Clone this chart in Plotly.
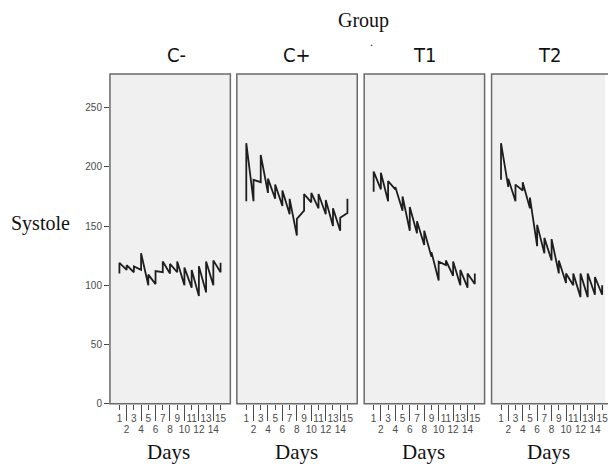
import plotly.graph_objects as go

# ---------------- data ----------------
days = list(range(1, 16))
groups = ["C-", "C+", "T1", "T2"]

# each day shows a vertical run of readings: first value, then last value
cneg_first = [110, 113, 111, 113, 100, 101, 111, 110, 111, 100, 98, 91, 94, 100, 111]
cneg_last = [119, 117, 116, 127, 109, 112, 120, 118, 120, 115, 113, 116, 120, 121, 119]

cpos_first = [171, 171, 187, 178, 173, 167, 160, 142, 163, 170, 165, 160, 150, 146, 161]
cpos_last = [220, 189, 210, 190, 185, 180, 173, 156, 177, 178, 177, 172, 165, 157, 173]

t1_first = [179, 181, 171, 181, 163, 146, 144, 134, 124, 104, 117, 108, 100, 98, 101]
t1_last = [196, 195, 188, 183, 175, 166, 154, 146, 128, 120, 121, 120, 113, 110, 110]

t2_first = [189, 183, 171, 180, 165, 133, 127, 121, 110, 102, 100, 90, 90, 92, 92]
t2_last = [220, 190, 185, 187, 174, 151, 140, 139, 121, 110, 110, 110, 110, 107, 100]

series_first = [cneg_first, cpos_first, t1_first, t2_first]
series_last = [cneg_last, cpos_last, t1_last, t2_last]

y_ticks = [0, 50, 100, 150, 200, 250]
odd_days = [d for d in days if d % 2 == 1]
even_days = [d for d in days if d % 2 == 0]

# ---------------- layout constants ----------------
W, H = 608, 466
panel_left = [110.5, 238, 366, 494]
panel_w = 121
top_px, bot_px = 75, 409
px_per_day = 7.26
x0 = -0.31
y_max = (bot_px - top_px) / 1.2

SERIF = "Liberation Serif, Times New Roman, serif"
SANS = "Liberation Sans, Arial, sans-serif"
NARROW = "Liberation Sans Narrow, DejaVu Sans Condensed, Arial Narrow, sans-serif"
TICKC = "#4a4a4a"

fig = go.Figure()
layout = dict(
    width=W, height=H,
    margin=dict(l=0, r=0, t=0, b=0),
    paper_bgcolor="white",
    plot_bgcolor="#f0f0f0",
    showlegend=False,
    shapes=[], annotations=[],
)

ydom = [(H - bot_px) / H, (H - top_px) / H]

for i, g in enumerate(groups):
    k = i + 1
    ek = k + 4
    xs, ys = [], []
    for d, a, b in zip(days, series_first[i], series_last[i]):
        xs += [d, d]
        ys += [a, b]
    xa = "x" if k == 1 else f"x{k}"
    ya = "y" if k == 1 else f"y{k}"
    fig.add_trace(go.Scatter(x=xs, y=ys, mode="lines", xaxis=xa, yaxis=ya,
                             line=dict(color="#1e1e1e", width=1.8),
                             hoverinfo="skip"))
    # transparent copy so the overlaid even-day axis is drawn
    fig.add_trace(go.Scatter(x=xs, y=ys, mode="lines", xaxis=f"x{ek}", yaxis=ya,
                             line=dict(color="rgba(0,0,0,0)", width=0),
                             hoverinfo="skip"))

    left = panel_left[i]
    right = min(left + panel_w, W)
    dom = [left / W, right / W]
    xr = [x0, x0 + (right - left) / px_per_day]

    xname = "xaxis" if k == 1 else f"xaxis{k}"
    yname = "yaxis" if k == 1 else f"yaxis{k}"
    layout[xname] = dict(
        domain=dom, range=xr, anchor=ya,
        tickmode="array", tickvals=odd_days, ticktext=[str(d) for d in odd_days],
        ticks="outside", ticklen=5, tickwidth=1, tickcolor=TICKC,
        tickfont=dict(family=SANS, size=10, color=TICKC),
        showgrid=False, zeroline=False, showline=False,
        ticklabeloverflow="allow", fixedrange=True,
    )
    # even days: long ticks with labels on a second row
    layout[f"xaxis{ek}"] = dict(
        overlaying=xa, range=xr, anchor=ya, side="bottom",
        tickmode="array", tickvals=even_days, ticktext=[str(d) for d in even_days],
        ticks="outside", ticklen=16, tickwidth=1, tickcolor=TICKC,
        tickfont=dict(family=SANS, size=10, color=TICKC),
        showgrid=False, zeroline=False, showline=False,
        ticklabeloverflow="allow", fixedrange=True,
    )
    if k == 1:
        layout[yname] = dict(
            domain=ydom, range=[0, y_max], anchor=xa,
            tickmode="array", tickvals=y_ticks, ticktext=[str(v) for v in y_ticks],
            ticks="outside", ticklen=5, tickwidth=1, tickcolor=TICKC,
            tickfont=dict(family=SANS, size=10, color=TICKC),
            showgrid=False, zeroline=False, showline=False, fixedrange=True,
        )
    else:
        layout[yname] = dict(domain=ydom, range=[0, y_max], anchor=xa,
                             visible=False, fixedrange=True)

    # panel frame
    layout["shapes"].append(dict(
        type="rect", xref=f"{xa} domain", yref=f"{ya} domain",
        x0=0, x1=1 if right < W else 1.08, y0=0, y1=1,
        line=dict(color="#6a6a6a", width=1.5), layer="above",
    ))

    # panel header and x title
    layout["annotations"].append(dict(
        text=g, xref="paper", yref="paper", x=[177, 298, 427, 552][i] / W,
        y=(H - 56) / H, showarrow=False, xanchor="center", yanchor="middle",
        font=dict(family=NARROW, size=20, color="#111"),
    ))
    layout["annotations"].append(dict(
        text="Days", xref="paper", yref="paper", x=[169, 298, 426, 551][i] / W,
        y=(H - 458) / H, showarrow=False, xanchor="center", yanchor="middle",
        font=dict(family=SERIF, size=21, color="#111"),
    ))

layout["annotations"].append(dict(
    text="Group", xref="paper", yref="paper", x=365 / W, y=(H - 21) / H,
    showarrow=False, xanchor="center", yanchor="middle",
    font=dict(family=SERIF, size=20, color="#111"),
))
layout["annotations"].append(dict(
    text=".", xref="paper", yref="paper", x=373 / W, y=(H - 43) / H,
    showarrow=False, xanchor="center", yanchor="middle",
    font=dict(family=SERIF, size=12, color="#333"),
))
layout["annotations"].append(dict(
    text="Systole", xref="paper", yref="paper", x=41 / W, y=(H - 226) / H,
    showarrow=False, xanchor="center", yanchor="middle",
    font=dict(family=SERIF, size=20, color="#111"),
))

fig.update_layout(**layout)
fig.write_html("out.html")
